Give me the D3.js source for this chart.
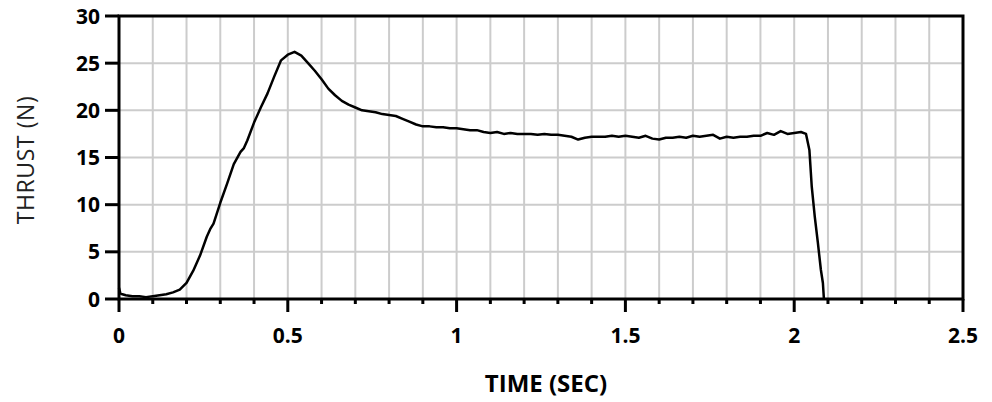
<!DOCTYPE html>
<html>
<head>
<meta charset="utf-8">
<script src="https://cdn.jsdelivr.net/npm/d3@7"></script>
<style>
  body { margin: 0; background: #fff; }
  svg { display: block; }
</style>
</head>
<body>
<div id="chart"></div>
<script>
// thrust curve
const times = [0.000, 0.004, 0.01, 0.02, 0.04, 0.06, 0.08, 0.10, 0.12, 0.14, 0.16, 0.18,
  0.20, 0.22, 0.24, 0.26, 0.27, 0.28, 0.30, 0.32, 0.34, 0.36, 0.37, 0.38, 0.40,
  0.42, 0.44, 0.46, 0.48, 0.50, 0.52, 0.54, 0.56, 0.58, 0.60, 0.62, 0.64, 0.66,
  0.68, 0.70, 0.72, 0.74, 0.76, 0.78, 0.80, 0.82, 0.84, 0.86, 0.88, 0.90, 0.92,
  0.94, 0.96, 0.98, 1.00, 1.02, 1.04, 1.06, 1.08, 1.10, 1.12, 1.14, 1.16, 1.18,
  1.20, 1.22, 1.24, 1.26, 1.28, 1.30, 1.32, 1.34, 1.36, 1.38, 1.40, 1.42, 1.44,
  1.46, 1.48, 1.50, 1.52, 1.54, 1.56, 1.58, 1.60, 1.62, 1.64, 1.66, 1.68, 1.70,
  1.72, 1.74, 1.76, 1.78, 1.80, 1.82, 1.84, 1.86, 1.88, 1.90, 1.92, 1.94, 1.96,
  1.98, 2.00, 2.02, 2.035, 2.045, 2.052, 2.061, 2.070, 2.079, 2.085, 2.088];
const thrust = [1.2, 0.6, 0.5, 0.4, 0.3, 0.3, 0.2, 0.3, 0.4, 0.5, 0.7, 1.0,
  1.7, 3.0, 4.6, 6.6, 7.4, 8.0, 10.2, 12.2, 14.3, 15.6, 16.0, 16.8, 18.7,
  20.3, 21.8, 23.6, 25.3, 25.9, 26.2, 25.8, 25.0, 24.2, 23.3, 22.3, 21.6, 21.0,
  20.6, 20.3, 20.0, 19.9, 19.8, 19.6, 19.5, 19.4, 19.1, 18.8, 18.5, 18.3, 18.3,
  18.2, 18.2, 18.1, 18.1, 18.0, 17.9, 17.9, 17.7, 17.6, 17.7, 17.5, 17.6, 17.5,
  17.5, 17.5, 17.4, 17.5, 17.4, 17.4, 17.3, 17.2, 16.9, 17.1, 17.2, 17.2, 17.2,
  17.3, 17.2, 17.3, 17.2, 17.1, 17.3, 17.0, 16.9, 17.1, 17.1, 17.2, 17.1, 17.3,
  17.2, 17.3, 17.4, 17.0, 17.2, 17.1, 17.2, 17.2, 17.3, 17.3, 17.6, 17.4, 17.8,
  17.5, 17.6, 17.7, 17.5, 15.8, 11.9, 8.7, 6.0, 3.1, 1.7, 0];

const xTickLabels = ["0", "0.5", "1", "1.5", "2", "2.5"];
const yTickLabels = ["0", "5", "10", "15", "20", "25", "30"];

const W = 992, H = 402;
const margin = {top: 16, right: 29, bottom: 103, left: 119};
const width = W - margin.left - margin.right;
const height = H - margin.top - margin.bottom;

const svg = d3.select("#chart").append("svg")
  .attr("width", W)
  .attr("height", H);

const g = svg.append("g").attr("transform", `translate(${margin.left},${margin.top})`);

const x = d3.scaleLinear().domain([0, 2.5]).range([0, width]);
const y = d3.scaleLinear().domain([0, 30]).range([height, 0]);

// grid
g.append("g").selectAll("line")
  .data(d3.range(1, 25).map(i => i / 10))
  .join("line")
  .attr("x1", d => x(d)).attr("x2", d => x(d))
  .attr("y1", 0).attr("y2", height)
  .attr("stroke", "#cccccc").attr("stroke-width", 2);

g.append("g").selectAll("line")
  .data([5, 10, 15, 20, 25])
  .join("line")
  .attr("x1", 0).attr("x2", width)
  .attr("y1", d => y(d)).attr("y2", d => y(d))
  .attr("stroke", "#cccccc").attr("stroke-width", 2);

// frame
g.append("rect")
  .attr("x", 0).attr("y", 0)
  .attr("width", width).attr("height", height)
  .attr("fill", "none").attr("stroke", "#000").attr("stroke-width", 3);

// y ticks + labels
g.append("g").selectAll("line")
  .data(yTickLabels)
  .join("line")
  .attr("x1", -14).attr("x2", 0)
  .attr("y1", d => y(+d)).attr("y2", d => y(+d))
  .attr("stroke", "#000").attr("stroke-width", 3);

g.append("g").selectAll("text")
  .data(yTickLabels)
  .join("text")
  .attr("x", -19)
  .attr("y", d => y(+d))
  .attr("dy", "0.36em")
  .attr("text-anchor", "end")
  .style("font-family", "'Open Sans', sans-serif")
  .style("font-weight", "bold")
  .style("font-size", "21px")
  .text(d => d);

// x ticks
g.append("g").selectAll("line")
  .data(d3.range(0, 26).map(i => i / 10))
  .join("line")
  .attr("x1", d => x(d)).attr("x2", d => x(d))
  .attr("y1", height)
  .attr("y2", (d, i) => height + (i % 5 === 0 ? 13 : 5))
  .attr("stroke", "#000").attr("stroke-width", 3);

g.append("g").selectAll("text")
  .data(xTickLabels)
  .join("text")
  .attr("x", d => x(+d))
  .attr("y", height + 44)
  .attr("text-anchor", "middle")
  .style("font-family", "'Open Sans', sans-serif")
  .style("font-weight", "bold")
  .style("font-size", "21px")
  .text(d => d);

// titles
svg.append("text")
  .attr("x", margin.left + width / 2 + 5)
  .attr("y", 392)
  .attr("text-anchor", "middle")
  .style("font-family", "'Open Sans', sans-serif")
  .style("font-weight", "bold")
  .style("font-size", "24px")
  .text("TIME (SEC)");

svg.append("text")
  .attr("transform", `translate(34,160) rotate(-90)`)
  .attr("text-anchor", "middle")
  .style("font-family", "'Open Sans', sans-serif")
  .style("font-size", "23px")
  .style("letter-spacing", "0.6px")
  .style("fill", "#222")
  .text("THRUST (N)");

// curve
const pts = times.map((t, i) => [t, thrust[i]]);
g.append("path")
  .datum(pts)
  .attr("fill", "none")
  .attr("stroke", "#000")
  .attr("stroke-width", 2.5)
  .attr("stroke-linejoin", "round")
  .attr("d", d3.line().x(d => x(d[0])).y(d => y(d[1])));
</script>
</body>
</html>
